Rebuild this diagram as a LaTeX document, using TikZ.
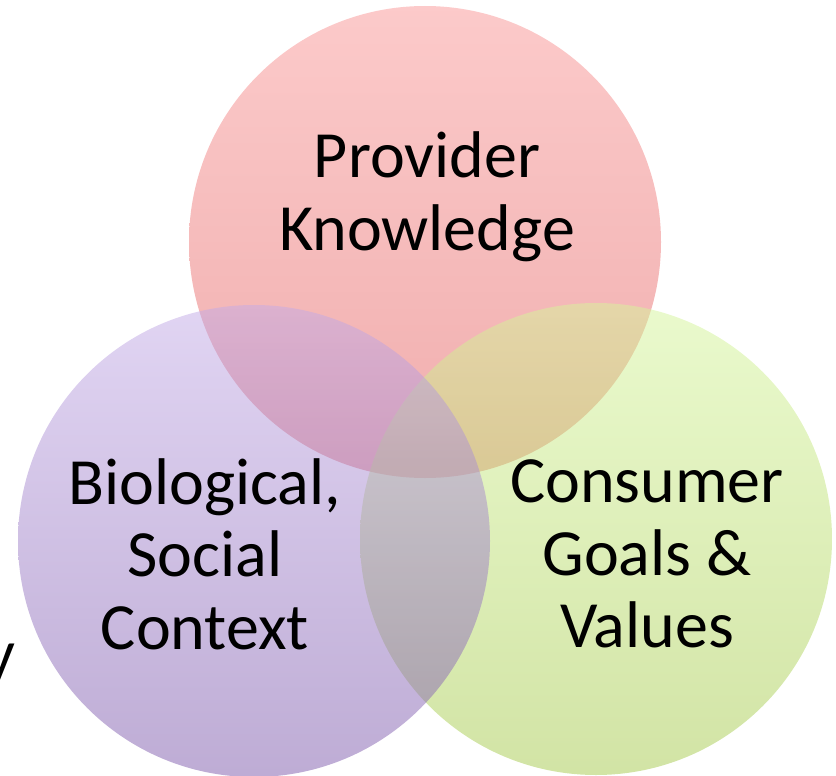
\documentclass[tikz,border=0pt]{standalone}
\usepackage{fontspec}
\setmainfont{Carlito}

\definecolor{provtop}{RGB}{249,149,149}
\definecolor{provbot}{RGB}{225,92,92}
\definecolor{cons top}{RGB}{213,245,155}
\definecolor{consbot}{RGB}{165,201,75}
\definecolor{biotop}{RGB}{195,171,231}
\definecolor{biobot}{RGB}{125,89,171}

\tikzset{
    venn/.style={fill opacity=0.5},
    big text/.style={font=\fontsize{66}{72.5}\selectfont, align=center, inner sep=0pt}
}

\begin{document}
\begin{tikzpicture}[x=1pt, y=-1pt]
        \useasboundingbox (0, 0) rectangle (836, 776);

        \coordinate (P) at (425, 242);
        \coordinate (B) at (254, 541);
        \coordinate (C) at (596, 539);

        \shade[venn, top color=provtop, bottom color=provbot] (P) circle[radius=236pt];
        \shade[venn, top color=cons top, bottom color=consbot] (C) circle[radius=236pt];
        \shade[venn, top color=biotop, bottom color=biobot] (B) circle[radius=236pt];

        \node[big text] (prov) at (427, 197) {Provider\\Knowledge};
        \node[big text] (bio) at (205, 554) {Biological,\\Social\\Context};
        \node[big text] (cons) at (647, 554) {Consumer\\Goals \&\\Values};
        \node[font=\fontsize{66}{72.5}\selectfont, inner sep=0pt, anchor=base west] (cut) at (-15, 675) {y};
    \end{tikzpicture}
\end{document}
